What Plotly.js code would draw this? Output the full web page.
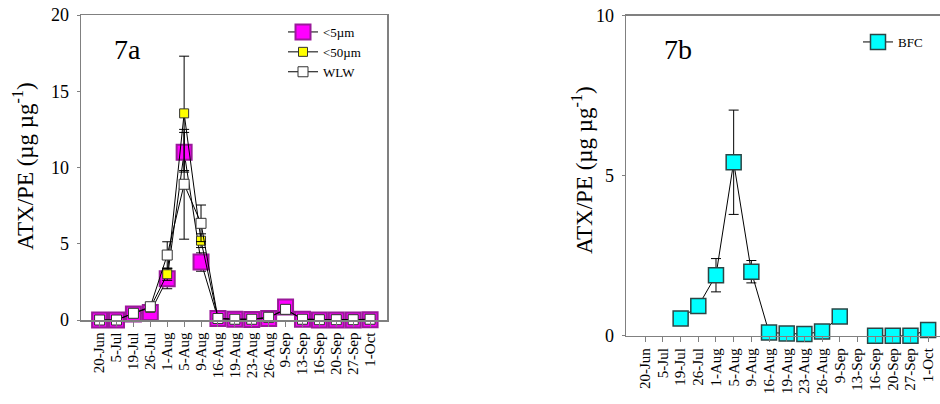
<!DOCTYPE html>
<html>
<head>
<meta charset="utf-8">
<script src="https://cdn.plot.ly/plotly-3.0.1.min.js"></script>
<style>html,body{margin:0;padding:0;background:#fff;}#chart{width:940px;height:404px;}</style>
</head>
<body>
<div id="chart"></div>
<script>
// ---- data ----
const dates = ['20-Jun','5-Jul','19-Jul','26-Jul','1-Aug','5-Aug','9-Aug','16-Aug','19-Aug','23-Aug','26-Aug','9-Sep','13-Sep','16-Sep','20-Sep','27-Sep','1-Oct'];
const lt5 =      [0, 0, 0.40, 0.50, 2.70, 11.00, 3.80, 0.10, 0.05, 0.03, 0.10, 0.85, 0.05, 0, 0, 0, 0.02];
const lt5Err =   [0, 0, 0,    0,    0.65, 1.30,  0.60, 0,    0,    0,    0,    0,    0,    0, 0, 0, 0];
const lt50 =     [0, 0, 0.45, 0.80, 3.00, 13.55, 5.20, 0.10, 0.05, 0.05, 0.15, 0.70, 0.05, 0.02, 0.02, 0.02, 0.05];
const lt50Err =  [0, 0, 0,    0,    0.40, 3.75,  0.45, 0,    0,    0,    0,    0,    0,    0, 0, 0, 0];
const wlw =      [0, 0, 0.44, 0.87, 4.26, 8.90,  6.34, 0.10, 0.05, 0.05, 0.18, 0.70, 0.05, 0.02, 0.02, 0.02, 0.05];
const wlwErr =   [0, 0, 0,    0,    0.87, 3.60,  1.20, 0,    0,    0,    0,    0,    0,    0, 0, 0, 0];
const bfc =      [null, null, 0.54, 0.93, 1.89, 5.42, 2.00, 0.10, 0.07, 0.05, 0.13, 0.60, null, 0, 0, 0, 0.18];
const bfcErr =   [0, 0, 0, 0, 0.52, 1.63, 0.35, 0, 0, 0, 0, 0, 0, 0, 0, 0, 0];
const yTicksA = [0, 5, 10, 15, 20];
const yTicksB = [0, 5, 10];

// ---- helpers for layout positions ----
const W = 940, H = 404;
const px = x => x / W;
const py = y => 1 - y / H;
const FONT = '"Liberation Serif", "Times New Roman", serif';

function errBar(arr) {
  return {type: 'data', array: arr, symmetric: true, color: '#000', thickness: 1, width: 5, visible: true};
}

const traces = [
  {x: dates, y: lt5, name: '<5µm', type: 'scatter', mode: 'lines+markers', xaxis: 'x', yaxis: 'y',
   line: {color: '#000', width: 1}, cliponaxis: false,
   marker: {symbol: 'square', size: 15, color: '#ff00ff', line: {color: '#9a1a9a', width: 2}},
   error_y: errBar(lt5Err), legend: 'legend'},
  {x: dates, y: lt50, name: '<50µm', type: 'scatter', mode: 'lines+markers', xaxis: 'x', yaxis: 'y',
   line: {color: '#000', width: 1}, cliponaxis: false,
   marker: {symbol: 'square', size: 9, color: '#ffff00', line: {color: '#333', width: 1}},
   error_y: errBar(lt50Err), legend: 'legend'},
  {x: dates, y: wlw, name: 'WLW', type: 'scatter', mode: 'lines+markers', xaxis: 'x', yaxis: 'y',
   line: {color: '#000', width: 1}, cliponaxis: false,
   marker: {symbol: 'square', size: 10, color: '#ffffff', line: {color: '#333', width: 1}},
   error_y: errBar(wlwErr), legend: 'legend'},
  {x: dates, y: bfc, name: 'BFC', type: 'scatter', mode: 'lines+markers', xaxis: 'x2', yaxis: 'y2',
   line: {color: '#000', width: 1}, cliponaxis: false, connectgaps: false,
   marker: {symbol: 'square', size: 15, color: '#00ffff', line: {color: '#2b4545', width: 1.5}},
   error_y: errBar(bfcErr), legend: 'legend2'}
];

const axisCommon = {
  type: 'category', showgrid: false, zeroline: false,
  showline: true, linecolor: '#808080', linewidth: 1.5, mirror: true,
  ticks: 'outside', ticklen: 5, tickcolor: '#808080', tickwidth: 1,
  tickmode: 'array', tickvals: dates, ticktext: dates,
  tickangle: -90, tickfont: {family: FONT, size: 15, color: '#000'},
  categoryorder: 'array', categoryarray: dates
};
const yCommon = {
  showgrid: false, zeroline: false, showline: true, linecolor: '#808080', linewidth: 1.5, mirror: true,
  ticks: 'outside', ticklen: 3, tickcolor: '#808080', tickwidth: 1, ticklabelstandoff: 4,
  tickfont: {family: FONT, size: 18, color: '#000'}
};

const layout = {
  width: W, height: H,
  margin: {l: 0, r: 0, t: 0, b: 0},
  paper_bgcolor: '#fff', plot_bgcolor: '#fff',
  font: {family: FONT, color: '#000'},
  xaxis: Object.assign({}, axisCommon, {domain: [px(81), px(387)], range: [-1.1, 17.0], anchor: 'y'}),
  yaxis: Object.assign({}, yCommon, {domain: [py(320), py(15)], range: [0, 20], tickvals: yTicksA, anchor: 'x'}),
  xaxis2: Object.assign({}, axisCommon, {domain: [px(626), 1], range: [-1.09, 16.67], anchor: 'y2'}),
  yaxis2: Object.assign({}, yCommon, {domain: [py(335.7), py(15.7)], range: [0, 10], tickvals: yTicksB, anchor: 'x2'}),
  showlegend: true,
  legend: {x: px(283), y: py(17), xanchor: 'left', yanchor: 'top', bgcolor: 'rgba(0,0,0,0)',
           font: {family: FONT, size: 13, color: '#000'}, tracegroupgap: 0},
  legend2: {x: px(858), y: py(27), xanchor: 'left', yanchor: 'top', bgcolor: 'rgba(0,0,0,0)',
            font: {family: FONT, size: 13, color: '#000'}},
  annotations: [
    {text: '7a', x: px(112), y: py(49), xref: 'paper', yref: 'paper', xanchor: 'left', yanchor: 'middle',
     showarrow: false, font: {family: FONT, size: 28, color: '#000'}},
    {text: '7b', x: px(662), y: py(49), xref: 'paper', yref: 'paper', xanchor: 'left', yanchor: 'middle',
     showarrow: false, font: {family: FONT, size: 28, color: '#000'}},
    {text: 'ATX/PE (µg µg<sup>-1</sup>)', x: px(24), y: py(166), xref: 'paper', yref: 'paper',
     xanchor: 'center', yanchor: 'middle', textangle: -90, showarrow: false,
     font: {family: FONT, size: 23, color: '#000'}},
    {text: 'ATX/PE (µg µg<sup>-1</sup>)', x: px(583), y: py(170), xref: 'paper', yref: 'paper',
     xanchor: 'center', yanchor: 'middle', textangle: -90, showarrow: false,
     font: {family: FONT, size: 23, color: '#000'}}
  ]
};

Plotly.newPlot('chart', traces, layout, {displayModeBar: false, staticPlot: true});
</script>
</body>
</html>
